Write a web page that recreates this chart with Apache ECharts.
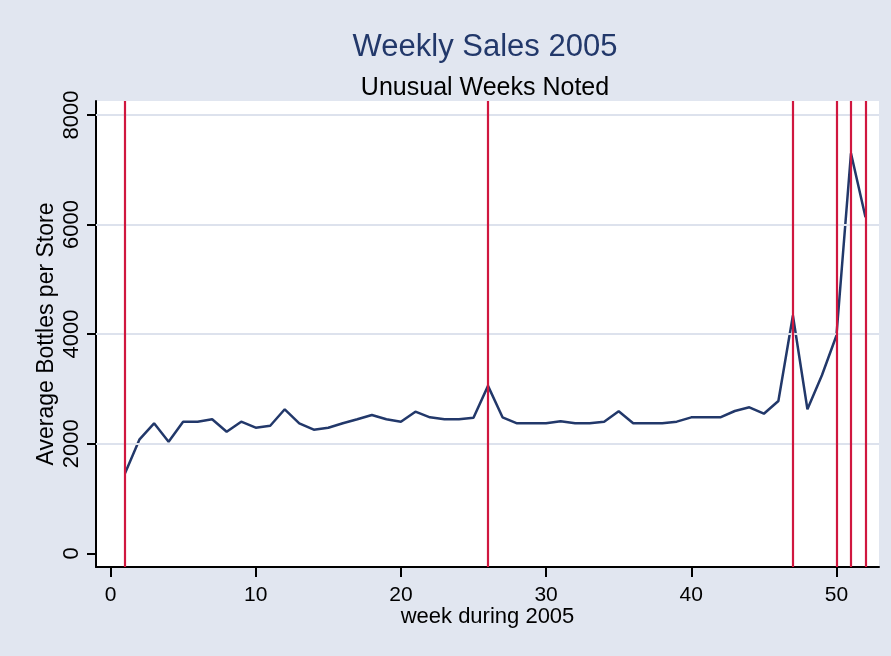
<!DOCTYPE html>
<html>
<head>
<meta charset="utf-8">
<title>Weekly Sales 2005</title>
<script src="https://cdn.jsdelivr.net/npm/echarts@6/dist/echarts.min.js"></script>
<style>
  html, body { margin: 0; padding: 0; background: #e1e6f0; }
  #chart { width: 891px; height: 656px; }
</style>
</head>
<body>
<div id="chart"></div>
<script>
// 数据
var weeks = [];
for (var w = 1; w <= 52; w++) { weeks.push(w); }
var bottles = [1460, 2080, 2372, 2037, 2402, 2402, 2445, 2219, 2402, 2292,
               2328, 2628, 2372, 2256, 2292, 2372, 2445, 2524, 2445, 2402,
               2584, 2481, 2445, 2445, 2475, 3055, 2481, 2372, 2372, 2372,
               2408, 2372, 2372, 2402, 2591, 2372, 2372, 2372, 2402, 2481,
               2481, 2481, 2597, 2664, 2547, 2779, 4340, 2628, 3249, 3975,
               7299, 6131];
var unusualWeeks = [1, 26, 47, 50, 51, 52];
var xTicks = [0, 10, 20, 30, 40, 50];
var yTicks = [0, 2000, 4000, 6000, 8000];
var yGrid = [2000, 4000, 6000, 8000];

var font = '"Liberation Sans", Arial, sans-serif';
var navy = '#22386a';

var chart = echarts.init(document.getElementById('chart'));

var option = {
    animation: false,
    backgroundColor: '#e1e6f0',
    title: [
        {
            text: 'Weekly Sales 2005',
            left: 480,
            top: 27,
            textAlign: 'center',
            textStyle: { color: navy, fontSize: 31, fontWeight: 'normal', fontFamily: font }
        },
        {
            text: 'Unusual Weeks Noted',
            left: 480,
            top: 71,
            textAlign: 'center',
            textStyle: { color: '#000', fontSize: 25, fontWeight: 'normal', fontFamily: font }
        }
    ],
    grid: {
        left: 96,
        right: 12,
        top: 101,
        bottom: 89,
        show: true,
        backgroundColor: '#ffffff',
        borderWidth: 0
    },
    xAxis: {
        type: 'value',
        min: -1,
        max: 52.93,
        name: 'week during 2005',
        nameLocation: 'middle',
        nameGap: 39,
        nameMoveOverlap: false,
        nameTextStyle: { color: '#000', fontSize: 22, fontFamily: font },
        axisLine: { show: true, onZero: false, lineStyle: { color: '#000', width: 2 } },
        axisTick: { show: true, length: 10, customValues: xTicks, lineStyle: { color: '#000', width: 2 } },
        axisLabel: { customValues: xTicks, color: '#000', fontSize: 21, fontFamily: font, margin: 18 },
        splitLine: { show: false }
    },
    yAxis: {
        type: 'value',
        min: -250,
        max: 8254,
        name: 'Average Bottles per Store',
        nameLocation: 'middle',
        nameGap: 38,
        nameMoveOverlap: false,
        nameTextStyle: { color: '#000', fontSize: 23, fontFamily: font },
        axisLine: { show: true, onZero: false, lineStyle: { color: '#000', width: 2 } },
        axisTick: { show: true, length: 9, customValues: yTicks, lineStyle: { color: '#000', width: 2 } },
        axisLabel: {
            customValues: yTicks,
            rotate: 90,
            color: '#000',
            fontSize: 22,
            fontFamily: font,
            margin: 13,
            formatter: function (v) { return String(v); }
        },
        splitLine: { show: false }
    },
    series: [
        {
            // 网格线和特殊周
            type: 'line',
            data: [],
            z: 1,
            silent: true,
            markLine: {
                silent: true,
                symbol: 'none',
                label: { show: false },
                animation: false,
                data: yGrid.map(function (v) {
                    return { yAxis: v, lineStyle: { color: '#dde2ed', width: 2, type: 'solid' } };
                }).concat(unusualWeeks.map(function (v) {
                    return { xAxis: v, lineStyle: { color: '#d0173f', width: 2.2, type: 'solid' } };
                }))
            }
        },
        {
            type: 'line',
            z: 3,
            data: weeks.map(function (w, i) { return [w, bottles[i]]; }),
            showSymbol: false,
            lineStyle: { color: navy, width: 2.5 },
            itemStyle: { color: navy }
        }
    ]
};
chart.setOption(option);
</script>
</body>
</html>
